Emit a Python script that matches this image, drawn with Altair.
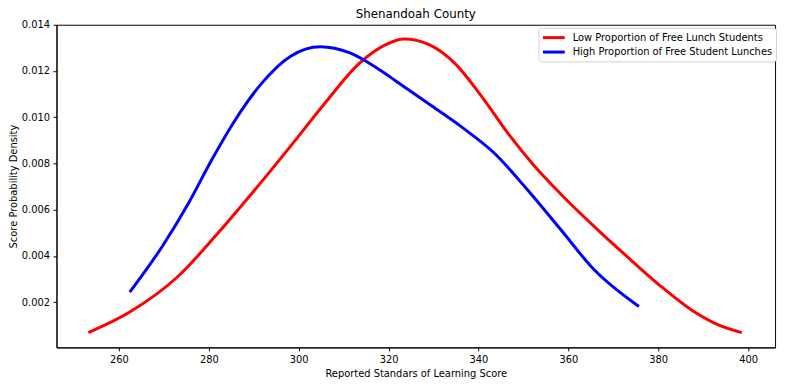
import altair as alt
import pandas as pd

low_label = "Low Proportion of Free Lunch Students"
high_label = "High Proportion of Free Student Lunches"

low_x = [253.2, 262.4, 273.3, 282.1, 290.2, 298.2, 305.6, 313.6, 319.5, 323.5,
         329.0, 334.8, 340.7, 346.5, 352.4, 358.3, 365.6, 372.9, 380.2, 387.5, 393.0, 398.6]
low_y = [0.00068, 0.00157, 0.00314, 0.00500, 0.00685, 0.00875, 0.01055, 0.01235, 0.01315, 0.01338,
         0.01314, 0.01232, 0.01090, 0.00932, 0.00790, 0.00668, 0.00530, 0.00400, 0.00275, 0.00165, 0.00105, 0.00068]

high_x = [262.4, 269.7, 275.5, 280.6, 285.8, 291.6, 298.2, 304.8, 311.4, 317.3,
          321.6, 329.0, 336.3, 343.6, 350.9, 358.3, 365.6, 375.7]
high_y = [0.00243, 0.00443, 0.00629, 0.00814, 0.00986, 0.01143, 0.01264, 0.01305, 0.01278, 0.01214,
          0.01157, 0.01057, 0.00957, 0.00843, 0.00686, 0.00514, 0.00343, 0.00181]

df = pd.concat([
    pd.DataFrame({"score": low_x, "density": low_y, "group": low_label, "order": range(len(low_x))}),
    pd.DataFrame({"score": high_x, "density": high_y, "group": high_label, "order": range(len(high_x))}),
])

FONT = "DejaVu Sans"

chart = alt.Chart(df).mark_line(strokeWidth=3, interpolate="monotone").encode(
    x=alt.X("score:Q", scale=alt.Scale(domain=[246.1, 406.0], nice=False, zero=False),
            axis=alt.Axis(title="Reported Standars of Learning Score", values=[260, 280, 300, 320, 340, 360, 380, 400],
                          format="d")),
    y=alt.Y("density:Q", scale=alt.Scale(domain=[0.00004, 0.014], nice=False, zero=False),
            axis=alt.Axis(title="Score Probability Density",
                          values=[0.002, 0.004, 0.006, 0.008, 0.010, 0.012, 0.014], format=".3f")),
    color=alt.Color("group:N",
                    scale=alt.Scale(domain=[low_label, high_label], range=["#ff0000", "#0000ff"]),
                    legend=alt.Legend(title=None, orient="none", legendX=487, legendY=3,
                                      symbolType="M-1,0H3", symbolStrokeWidth=3, symbolSize=121,
                                      symbolFillColor="transparent",
                                      labelFont=FONT, labelFontSize=10, labelColor="#000000",
                                      labelLimit=0, labelOffset=17.5,
                                      strokeColor="#d0d0d0", fillColor="white", cornerRadius=3,
                                      padding=3, rowPadding=1.6)),
    order="order:Q",
).properties(
    width=726, height=326,
    title=alt.TitleParams("Shenandoah County", font=FONT, fontSize=12, fontWeight="normal",
                          color="#000000", offset=-1, anchor="middle", frame="group"),
    autosize="none",
    padding={"left": 49, "top": 15, "right": 6, "bottom": 30},
).configure_axis(
    domainColor="#000000", domainWidth=1, tickColor="#000000", tickSize=3.5, tickWidth=1,
    labelFont=FONT, labelFontSize=10, labelColor="#000000", labelPadding=3.5,
    titleFont=FONT, titleFontSize=10, titleColor="#000000", titleFontWeight="normal",
    grid=False,
).configure_axisY(titlePadding=3).configure_axisX(titlePadding=4).configure_view(
    stroke="#000000", strokeWidth=1
)

chart.save("out.html", embed_options={"renderer": "svg", "actions": False})
